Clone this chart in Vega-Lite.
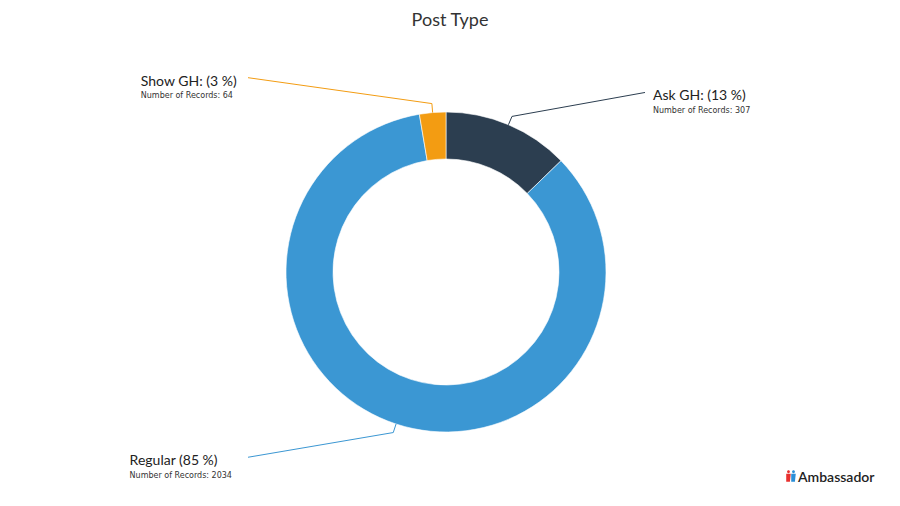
{
  "$schema": "https://vega.github.io/schema/vega-lite/v6.json",
  "width": 892,
  "height": 468,
  "padding": {"left": 0, "top": 38, "right": 8, "bottom": 0},
  "autosize": {"type": "none"},
  "background": "white",
  "config": {"view": {"stroke": null}, "font": "Lato"},
  "title": {"text": "Post Type", "fontSize": 18, "fontWeight": 400, "color": "#333333", "offset": 8, "dx": 4, "font": "Lato"},
  "datasets": {
    "posts": [
      {"type": "Ask GH", "label": "Ask GH: (13 %)", "count": 307, "order": 1},
      {"type": "Regular", "label": "Regular (85 %)", "count": 2034, "order": 2},
      {"type": "Show GH", "label": "Show GH: (3 %)", "count": 64, "order": 3}
    ],
    "brand": [{"name": "Ambassador"}]
  },
  "data": {"name": "posts"},
  "transform": [
    {"window": [{"op": "sum", "field": "count", "as": "cum"}], "sort": [{"field": "order"}], "frame": [null, 0]},
    {"joinaggregate": [{"op": "sum", "field": "count", "as": "total"}]},
    {"calculate": "2*PI*(datum.cum - datum.count/2)/datum.total", "as": "mid"},
    {"calculate": "'Number of Records: ' + datum.count", "as": "sub"},
    {"calculate": "sin(datum.mid)*160", "as": "x0"},
    {"calculate": "cos(datum.mid)*160", "as": "y0"},
    {"calculate": "sin(datum.mid)*169", "as": "x1"},
    {"calculate": "cos(datum.mid)*169", "as": "y1"},
    {"calculate": "sin(datum.mid) > 0 ? 199 : -198", "as": "x2"},
    {"calculate": "cos(datum.mid)*195", "as": "y2"},
    {"calculate": "sin(datum.mid) > 0 ? 207 : -213 - (81 + 5.6*length(toString(datum.count)))", "as": "lx"},
    {"calculate": "datum.y2 - 8", "as": "ly"},
    {"calculate": "datum.y2 - 20.5", "as": "ly2"}
  ],
  "layer": [
    {
      "mark": {"type": "arc", "radius": 160, "radius2": 113, "stroke": "white", "strokeWidth": 0.6},
      "encoding": {
        "theta": {"field": "count", "type": "quantitative", "stack": true},
        "order": {"field": "order", "type": "quantitative"},
        "color": {"field": "type", "type": "nominal", "scale": {"domain": ["Ask GH", "Regular", "Show GH"], "range": ["#2c3e50", "#3b97d3", "#f39c12"]}, "legend": null}
      }
    },
    {
      "mark": {"type": "rule", "strokeWidth": 1},
      "encoding": {
        "x": {"field": "x0", "type": "quantitative", "scale": {"domain": [-446, 446], "nice": false, "zero": false}, "axis": null},
        "y": {"field": "y0", "type": "quantitative", "scale": {"domain": [-234, 234], "nice": false, "zero": false}, "axis": null},
        "x2": {"field": "x1"},
        "y2": {"field": "y1"},
        "color": {"field": "type", "type": "nominal", "legend": null}
      }
    },
    {
      "mark": {"type": "rule", "strokeWidth": 1},
      "encoding": {
        "x": {"field": "x1", "type": "quantitative"},
        "y": {"field": "y1", "type": "quantitative"},
        "x2": {"field": "x2"},
        "y2": {"field": "y2"},
        "color": {"field": "type", "type": "nominal", "legend": null}
      }
    },
    {
      "mark": {"type": "text", "align": "left", "baseline": "alphabetic", "fontSize": 14, "color": "#222222", "font": "Lato"},
      "encoding": {
        "x": {"field": "lx", "type": "quantitative"},
        "y": {"field": "ly", "type": "quantitative"},
        "text": {"field": "label"}
      }
    },
    {
      "mark": {"type": "text", "align": "left", "baseline": "alphabetic", "fontSize": 8, "color": "#333333", "font": "DejaVu Sans"},
      "encoding": {
        "x": {"field": "lx", "type": "quantitative"},
        "y": {"field": "ly2", "type": "quantitative"},
        "text": {"field": "sub"}
      }
    },
    {
      "data": {"name": "brand"},
      "mark": {"type": "text", "align": "left", "baseline": "alphabetic", "fontSize": 14, "fontWeight": 600, "color": "#222222", "font": "Lato"},
      "encoding": {
        "x": {"datum": 352},
        "y": {"datum": -210},
        "text": {"field": "name"}
      }
    },
    {
      "data": {"name": "brand"},
      "mark": {"type": "point", "filled": true, "size": 130, "color": "#e8312f", "opacity": 1, "shape": "M-0.25,-0.75 A0.25,0.25 0 1 1 0.25,-0.75 A0.25,0.25 0 1 1 -0.25,-0.75 Z M-0.4,-0.4 L0.4,-0.4 L0.25,1 L-0.4,1 Z"},
      "encoding": {
        "x": {"datum": 342.5},
        "y": {"datum": -204}
      }
    },
    {
      "data": {"name": "brand"},
      "mark": {"type": "point", "filled": true, "size": 130, "color": "#2a8fd8", "opacity": 1, "shape": "M-0.25,-0.75 A0.25,0.25 0 1 1 0.25,-0.75 A0.25,0.25 0 1 1 -0.25,-0.75 Z M-0.4,-0.4 L0.4,-0.4 L0.25,1 L-0.4,1 Z"},
      "encoding": {
        "x": {"datum": 347.5},
        "y": {"datum": -204}
      }
    }
  ]
}
